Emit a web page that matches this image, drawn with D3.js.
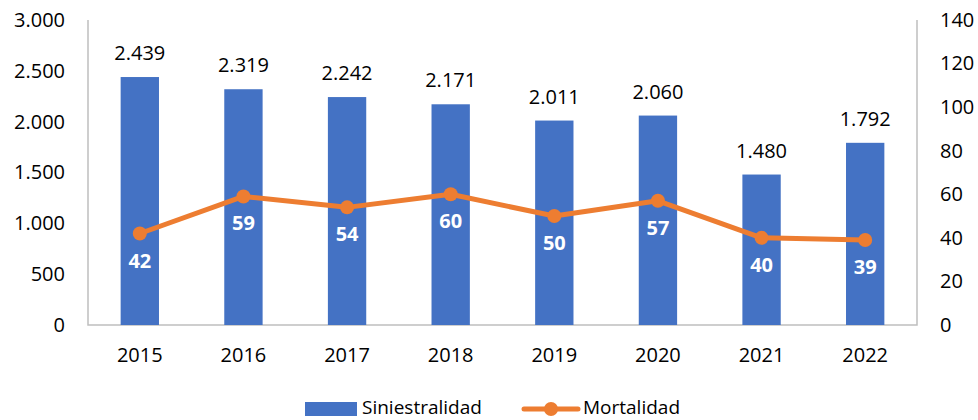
<!DOCTYPE html>
<html>
<head>
<meta charset="utf-8">
<script src="https://cdn.jsdelivr.net/npm/d3@7/dist/d3.min.js"></script>
<style>
  body { margin: 0; background: #fff; }
  svg { display: block; font-family: "Open Sans", "Noto Sans", sans-serif; }
</style>
</head>
<body>
<div id="chart"></div>
<script>
const years = ['2015', '2016', '2017', '2018', '2019', '2020', '2021', '2022'];
const siniestralidad = [2439, 2319, 2242, 2171, 2011, 2060, 1480, 1792];
const mortalidad = [42, 59, 54, 60, 50, 57, 40, 39];
const leftTicks = [0, 500, 1000, 1500, 2000, 2500, 3000];
const rightTicks = [0, 20, 40, 60, 80, 100, 120, 140];

const width = 978, height = 420;
const plot = { left: 88, right: 917, top: 20, bottom: 325 };
const blue = '#4472C4', orange = '#ED7D31', grid = '#BFBFBF';
const fmt = d3.formatLocale({ decimal: ',', thousands: '.', grouping: [3], currency: ['', ''] }).format(',d');

const svg = d3.select('#chart').append('svg')
    .attr('width', width)
    .attr('height', height);

const x = d3.scaleBand()
    .domain(years)
    .range([plot.left, plot.right])
    .paddingInner(0.63)
    .paddingOuter(0.315);
const yL = d3.scaleLinear().domain([0, 3000]).range([plot.bottom, plot.top]);
const yR = d3.scaleLinear().domain([0, 140]).range([plot.bottom, plot.top]);

// frame lines (left, bottom, right)
svg.append('path')
    .attr('d', `M${plot.left},${plot.top}V${plot.bottom}H${plot.right}V${plot.top}`)
    .attr('fill', 'none')
    .attr('stroke', grid)
    .attr('stroke-width', 1.5);

// left axis
svg.append('g')
    .attr('transform', `translate(${plot.left - 23},0)`)
    .call(d3.axisLeft(yL).tickValues(leftTicks).tickFormat(fmt).tickSize(0).tickPadding(0))
    .call(g => g.select('.domain').remove())
    .selectAll('text')
    .attr('font-size', 20)
    .attr('font-family', '"Open Sans", sans-serif')
    .attr('fill', '#000');

// right axis
svg.append('g')
    .attr('transform', `translate(${plot.right + 23},0)`)
    .call(d3.axisRight(yR).tickValues(rightTicks).tickSize(0).tickPadding(0))
    .call(g => g.select('.domain').remove())
    .selectAll('text')
    .attr('font-size', 20)
    .attr('font-family', '"Open Sans", sans-serif')
    .attr('fill', '#000');

// x axis
svg.append('g')
    .attr('transform', `translate(0,${plot.bottom})`)
    .call(d3.axisBottom(x).tickSize(0).tickPadding(23))
    .call(g => g.select('.domain').remove())
    .selectAll('text')
    .attr('font-size', 20)
    .attr('font-family', '"Open Sans", sans-serif')
    .attr('fill', '#000');

// bars
svg.append('g').selectAll('rect')
    .data(years)
    .join('rect')
    .attr('x', d => x(d))
    .attr('width', x.bandwidth())
    .attr('y', (d, i) => yL(siniestralidad[i]))
    .attr('height', (d, i) => yL(0) - yL(siniestralidad[i]))
    .attr('fill', blue);

// bar labels
svg.append('g').selectAll('text')
    .data(years)
    .join('text')
    .attr('x', d => x(d) + x.bandwidth() / 2)
    .attr('y', (d, i) => yL(siniestralidad[i]) - 17)
    .attr('text-anchor', 'middle')
    .attr('font-size', 20)
    .attr('fill', '#000')
    .text((d, i) => fmt(siniestralidad[i]));

// line
const cx = d => x(d) + x.bandwidth() / 2;
const line = d3.line()
    .x((d, i) => cx(years[i]))
    .y(d => yR(d));

svg.append('path')
    .datum(mortalidad)
    .attr('d', line)
    .attr('fill', 'none')
    .attr('stroke', orange)
    .attr('stroke-width', 5)
    .attr('stroke-linejoin', 'round');

svg.append('g').selectAll('circle')
    .data(mortalidad)
    .join('circle')
    .attr('cx', (d, i) => cx(years[i]))
    .attr('cy', d => yR(d))
    .attr('r', 7)
    .attr('fill', orange);

// line labels
svg.append('g').selectAll('text')
    .data(mortalidad)
    .join('text')
    .attr('x', (d, i) => cx(years[i]))
    .attr('y', d => yR(d) + 34)
    .attr('text-anchor', 'middle')
    .attr('font-size', 20)
    .attr('font-weight', 'bold')
    .attr('fill', '#fff')
    .text(d => d);

// legend
const legend = svg.append('g');
legend.append('rect')
    .attr('x', 305).attr('y', 402)
    .attr('width', 52).attr('height', 14)
    .attr('fill', blue);
legend.append('text')
    .attr('x', 362).attr('y', 414)
    .attr('font-size', 19)
    .attr('fill', '#000')
    .text('Siniestralidad');
legend.append('line')
    .attr('x1', 524).attr('x2', 578)
    .attr('y1', 409).attr('y2', 409)
    .attr('stroke', orange)
    .attr('stroke-width', 5)
    .attr('stroke-linecap', 'round');
legend.append('circle')
    .attr('cx', 551).attr('cy', 409).attr('r', 7)
    .attr('fill', orange);
legend.append('text')
    .attr('x', 583).attr('y', 414)
    .attr('font-size', 19)
    .attr('fill', '#000')
    .text('Mortalidad');
</script>
</body>
</html>
